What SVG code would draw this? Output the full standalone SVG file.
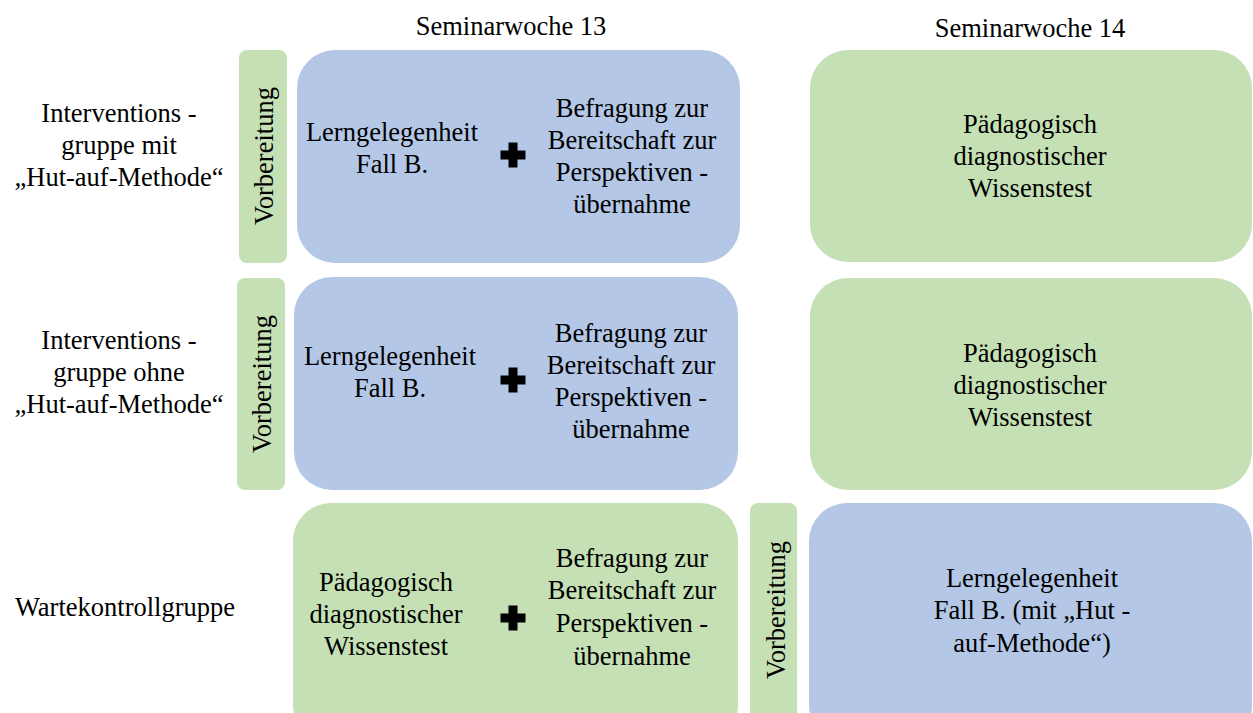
<svg xmlns="http://www.w3.org/2000/svg" width="1253" height="713" viewBox="0 0 1253 713" font-size="26.5" text-anchor="middle">
<rect width="1253" height="713" fill="#fff"/>
<g id="headers">
<text font-family="Liberation Serif" text-anchor="middle" x="511" y="35">Seminarwoche 13</text>
<text font-family="Liberation Serif" text-anchor="middle" x="1030" y="37">Seminarwoche 14</text>
</g>
<g id="labels">
<text font-family="Liberation Serif" text-anchor="middle" x="119" y="122">Interventions -</text>
<text font-family="Liberation Serif" text-anchor="middle" x="119" y="154">gruppe mit</text>
<text font-family="Liberation Serif" text-anchor="middle" x="119" y="186">„Hut-auf-Methode“</text>
<text font-family="Liberation Serif" text-anchor="middle" x="119" y="349">Interventions -</text>
<text font-family="Liberation Serif" text-anchor="middle" x="119" y="381">gruppe ohne</text>
<text font-family="Liberation Serif" text-anchor="middle" x="119" y="413">„Hut-auf-Methode“</text>
<text font-family="Liberation Serif" text-anchor="middle" x="125" y="616">Wartekontrollgruppe</text>
</g>
<g id="row1-prep">
<rect fill="#C5E0B4" x="239" y="50" width="48" height="213" rx="8"/>
<text font-family="Liberation Serif" text-anchor="middle" transform="translate(273,156) rotate(-90)">Vorbereitung</text>
</g>
<g id="row1-week13">
<rect fill="#B4C7E7" x="297" y="50" width="443" height="213" rx="38"/>
<text font-family="Liberation Serif" text-anchor="middle" x="392" y="141">Lerngelegenheit</text>
<text font-family="Liberation Serif" text-anchor="middle" x="392" y="173">Fall B.</text>
<path fill="#000" d="M508.5,142.5h9v8h8v9h-8v8h-9v-8h-8v-9h8z"/>
<text font-family="Liberation Serif" text-anchor="middle" x="632" y="117">Befragung zur</text>
<text font-family="Liberation Serif" text-anchor="middle" x="632" y="149">Bereitschaft zur</text>
<text font-family="Liberation Serif" text-anchor="middle" x="632" y="181">Perspektiven -</text>
<text font-family="Liberation Serif" text-anchor="middle" x="632" y="213">übernahme</text>
</g>
<g id="row1-week14">
<rect fill="#C5E0B4" x="810" y="50" width="442" height="212" rx="38"/>
<text font-family="Liberation Serif" text-anchor="middle" x="1030" y="133">Pädagogisch</text>
<text font-family="Liberation Serif" text-anchor="middle" x="1030" y="165">diagnostischer</text>
<text font-family="Liberation Serif" text-anchor="middle" x="1030" y="197">Wissenstest</text>
</g>
<g id="row2-prep">
<rect fill="#C5E0B4" x="237" y="278" width="48" height="212" rx="8"/>
<text font-family="Liberation Serif" text-anchor="middle" transform="translate(271,384) rotate(-90)">Vorbereitung</text>
</g>
<g id="row2-week13">
<rect fill="#B4C7E7" x="294" y="277" width="444" height="213" rx="38"/>
<text font-family="Liberation Serif" text-anchor="middle" x="390" y="365">Lerngelegenheit</text>
<text font-family="Liberation Serif" text-anchor="middle" x="390" y="397">Fall B.</text>
<path fill="#000" d="M508.5,367.5h9v8h8v9h-8v8h-9v-8h-8v-9h8z"/>
<text font-family="Liberation Serif" text-anchor="middle" x="631" y="342">Befragung zur</text>
<text font-family="Liberation Serif" text-anchor="middle" x="631" y="374">Bereitschaft zur</text>
<text font-family="Liberation Serif" text-anchor="middle" x="631" y="406">Perspektiven -</text>
<text font-family="Liberation Serif" text-anchor="middle" x="631" y="438">übernahme</text>
</g>
<g id="row2-week14">
<rect fill="#C5E0B4" x="810" y="278" width="442" height="212" rx="38"/>
<text font-family="Liberation Serif" text-anchor="middle" x="1030" y="362">Pädagogisch</text>
<text font-family="Liberation Serif" text-anchor="middle" x="1030" y="394">diagnostischer</text>
<text font-family="Liberation Serif" text-anchor="middle" x="1030" y="426">Wissenstest</text>
</g>
<g id="row3-week13">
<rect fill="#C5E0B4" x="293" y="503" width="445" height="240" rx="38"/>
<text font-family="Liberation Serif" text-anchor="middle" x="386" y="591">Pädagogisch</text>
<text font-family="Liberation Serif" text-anchor="middle" x="386" y="623">diagnostischer</text>
<text font-family="Liberation Serif" text-anchor="middle" x="386" y="655">Wissenstest</text>
<path fill="#000" d="M508.5,605.5h9v8h8v9h-8v8h-9v-8h-8v-9h8z"/>
<text font-family="Liberation Serif" text-anchor="middle" x="632" y="567">Befragung zur</text>
<text font-family="Liberation Serif" text-anchor="middle" x="632" y="599">Bereitschaft zur</text>
<text font-family="Liberation Serif" text-anchor="middle" x="632" y="632">Perspektiven -</text>
<text font-family="Liberation Serif" text-anchor="middle" x="632" y="665">übernahme</text>
</g>
<g id="row3-prep">
<rect fill="#C5E0B4" x="750" y="503" width="47" height="240" rx="8"/>
<text font-family="Liberation Serif" text-anchor="middle" transform="translate(785,610) rotate(-90)">Vorbereitung</text>
</g>
<g id="row3-week14">
<rect fill="#B4C7E7" x="809" y="503" width="443" height="240" rx="38"/>
<text font-family="Liberation Serif" text-anchor="middle" x="1032" y="587">Lerngelegenheit</text>
<text font-family="Liberation Serif" text-anchor="middle" x="1032" y="619">Fall B. (mit „Hut -</text>
<text font-family="Liberation Serif" text-anchor="middle" x="1032" y="652">auf-Methode“)</text>
</g>
<g id="connectors"></g>
</svg>
